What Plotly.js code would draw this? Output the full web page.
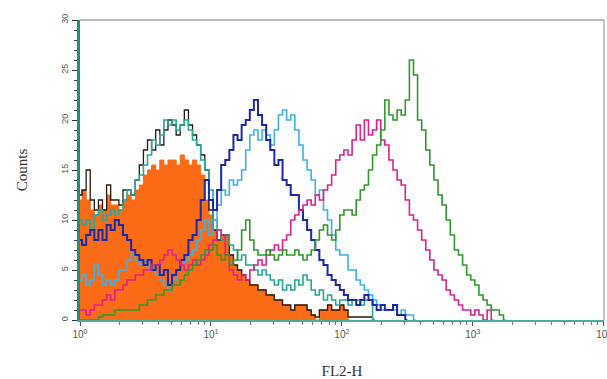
<!DOCTYPE html>
<html>
<head>
<meta charset="utf-8">
<script src="https://cdn.plot.ly/plotly-3.0.1.min.js"></script>
<style>html,body{margin:0;padding:0;background:#fff;}#chart{width:607px;height:379px;}</style>
</head>
<body>
<div id="chart"></div>
<script>
// Histogram channels: 32 channels per decade, channel 0 = FL2-H 10^0
const channelsPerDecade = 32;

const orangeCounts = [12,13,12,11,10.5,11.5,11,12.5,11.5,11.5, 11,12,12.5,12,13,13.5,14.5,15,15.5,15, 16,15.5,16,16,15.5,16.5,16,15.5,16,15.5, 14.5,12,10.5,9,8,8.5,8.5,6.5,5.5,5, 4.5,4,3.5,3.5,3,3,2.5,2.5,2,2, 1.5,1.5,1,1.5,1.5,1.5,1,0.5,0,1, 1,1.5,1,1,1.5,1,0];
const blackCounts = [12.5,13,15,12,11,12,11,13.5,12,12, 11.5,13,13,12.5,14,15.5,17,18,17,19, 17.5,19,20,19.5,18.5,19.5,21,19.5,18.5,17.5, 16.5,15,11,9,8,8.5,8.5,6.5,5.5,5, 4.5,4,3.5,3.5,3,3,2.5,2.5,2,2, 1.5,1.5,1,1.5,1.5,1.5,1,0.5,0.3,1, 1,1.5,1,1,1.5,1,0.3,0.3,0.3,0.3, 0.3,0.3,0];
const tealCounts = [10,9.5,10,9,10.5,11,10,10.5,11,10.5, 11,12,13,12.5,14,14.5,15.5,16.5,18,17.5, 18.5,20,19.5,20,19,19.5,20,19,18,17.5, 16,15,13,10,9,8,8.5,7.5,7,6, 6.5,5.5,5.5,5,4.5,5,4.5,4,3.5,4, 3,3.5,3,4,3.5,4.5,4,3,2.5,3, 2,2.5,2,1.5,2,2,1.5,2,2,1.5, 2,2,0];
const lightBlueCounts = [4,4.5,3.5,4,5.5,4.5,3.5,4,3.5,4, 5,5,6,6.5,6,5.5,6,5,5.5,4.5, 4,3.5,3,4,5,5.5,6,6.5,7,8, 9,10,8.5,10,11.5,13,12.5,14,13.5,14, 15,17,18.5,19,18,19,18.5,17.5,19,20.5, 21,20,20.5,19,17.5,16,15,14,12.5,13, 11,10,8.5,7,6.5,6.5,5,5,4,3.5, 3,2.5,2,1.5,1,1,1,1,0.5,1, 0.5,0.5,0];
const blueCounts = [8,7.5,8.5,9,8,9,8,9.5,9,10, 9.5,8.5,8,7,6.5,6,5.5,6,5,5.5, 4.5,5,3.5,4.5,5,6,6.5,8,8.5,10, 12,14,12,11,13,15.5,16,17,18.5,18, 19.5,20,21,22,20.5,19.5,18,17,15.5,16, 14,13.5,12.5,12.5,11,10,9,8,7,6, 5.5,4.5,4,3.5,3,2.5,2,2,1.5,2, 2.5,2,1.5,1,1.5,1,1,1.5,0.5,0.5, 0];
const magentaCounts = [1,1,0.5,1,1.5,1.5,2,2.5,2,3, 3,3.5,4,4,4.5,4.5,5,5,5.5,5.5, 6,6.5,7,6.5,6,5.5,5,5.5,6,5.5, 6,6.5,7.5,8,9,8.5,6.5,5,4.5,4, 4.5,4,5,5.5,6,5.5,6.5,7,7.5,7, 8,8.5,10,10.5,11,11.5,12,11.5,12.5,12, 13,13.5,14.5,16,16.5,17,16.5,18,19.5,18, 20,18.5,19,20,18,17.5,16,15,14,13.5, 12,10.5,10,9,8,7,6,5,4.5,4, 3,2.5,2,1.5,1,1,0.5,1,0.5,0, 1,0];
const greenCounts = [0,0,0,0,0,0.3,0.5,0.5,0.5,1, 1,1,1,1,1,1.5,1.5,2,2,2.5, 2.5,3,3,3.5,3.5,4,4.5,5,5.5,6, 6.5,7,7,7.5,6.5,6,6.5,5.5,6,7, 9,10,8,7,6.5,6.5,7,6.5,6,6.5, 7,6.5,6.5,7,6.5,6,6.5,7,8,9, 9.5,8.5,8,9,10.5,11,11,10.5,12,13, 13.5,15,16.5,17.5,19,22,20.5,20,21,20.5, 22,26,24.5,20,19,17,15.5,14,12.5,11.5, 10,8.5,7,6.5,5.5,4.5,4,3.5,2.5,2, 1.5,1,1,0.5,0];

const xTickVals = [1, 10, 100, 1000, 10000];
const xTickText = ['10<sup>0</sup>', '10<sup>1</sup>', '10<sup>2</sup>', '10<sup>3</sup>', '10<sup>4</sup>'];
const yTickVals = [0, 5, 10, 15, 20, 25, 30];

function channelX(counts) {
  return counts.map((_, i) => Math.pow(10, i / channelsPerDecade));
}

function hist(counts, color, width, fill) {
  const t = {
    x: channelX(counts), y: counts, type: 'scatter', mode: 'lines',
    line: {shape: 'hvh', color: color, width: width},
    hoverinfo: 'skip', showlegend: false
  };
  if (fill) { t.fill = 'tozeroy'; t.fillcolor = fill; }
  return t;
}

const data = [
  hist(orangeCounts, '#fb6a14', 1, '#fb6a14'),
  hist(blackCounts, '#2a1a10', 1.3),
  hist(tealCounts, '#26a898', 1.6),
  hist(lightBlueCounts, '#3cb2ea', 1.6),
  hist(blueCounts, '#1c2aa8', 2),
  hist(magentaCounts, '#e0218c', 1.6),
  hist(greenCounts, '#2f9a2a', 1.6)
];

const tickFont = {family: 'Liberation Sans, Arial, sans-serif', size: 9, color: '#555'};
const titleFont = {family: 'Liberation Serif, Times New Roman, serif', size: 15, color: '#333'};

const layout = {
  width: 607, height: 379,
  margin: {l: 80, r: 3, t: 20, b: 59},
  paper_bgcolor: '#fff', plot_bgcolor: '#fff',
  showlegend: false,
  xaxis: {
    type: 'log', range: [0, 4.002], autorange: false,
    tickvals: xTickVals, ticktext: xTickText,
    ticklabeloverflow: 'allow',
    ticks: 'outside', ticklen: 4, tickcolor: '#555', tickwidth: 1,
    minor: {ticks: 'outside', ticklen: 3, tickcolor: '#777', dtick: 'D1'},
    showgrid: false, zeroline: false,
    showline: true, linecolor: '#45b0a2', linewidth: 2,
    tickfont: {family: 'Liberation Sans, Arial, sans-serif', size: 10, color: '#555'},
    title: {text: 'FL2-H', font: titleFont, standoff: 27}
  },
  yaxis: {
    range: [0, 30], autorange: false,
    tickvals: yTickVals, tickangle: -90,
    ticks: 'outside', ticklen: 5, tickcolor: '#333', tickwidth: 1,
    minor: {dtick: 1, ticks: 'outside', ticklen: 3, tickcolor: '#444'},
    showgrid: false, zeroline: false,
    showline: true, linecolor: '#1f8f7c', linewidth: 3,
    tickfont: tickFont,
    title: {text: 'Counts', font: titleFont, standoff: 30}
  },
  shapes: [
    {type: 'line', xref: 'paper', yref: 'paper', x0: 0, x1: 1, y0: 1, y1: 1, line: {color: '#777', width: 1}},
    {type: 'line', xref: 'paper', yref: 'paper', x0: 1, x1: 1, y0: 0, y1: 1, line: {color: '#888', width: 1}}
  ]
};

Plotly.newPlot('chart', data, layout, {staticPlot: true, displayModeBar: false});
</script>
</body>
</html>
